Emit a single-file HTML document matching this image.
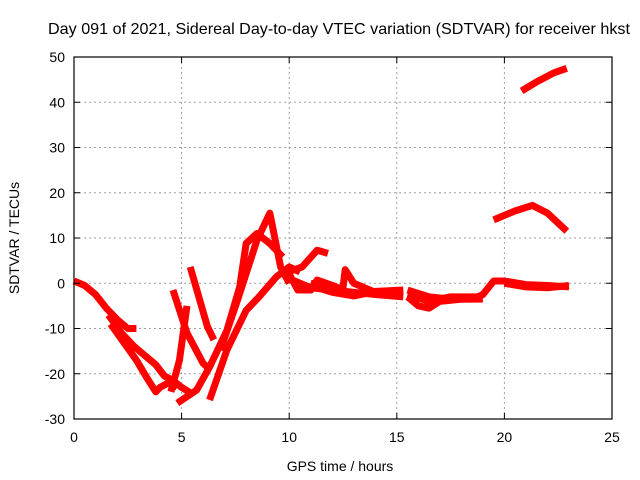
<!DOCTYPE html>
<html><head><meta charset="utf-8"><style>
body{margin:0;background:#fff}
svg{display:block;font-family:"Liberation Sans",sans-serif}
</style></head><body>
<svg id="chart" width="640" height="480">
<text x="339" y="34" font-size="16" text-anchor="middle" textLength="582" lengthAdjust="spacingAndGlyphs">Day 091 of 2021, Sidereal Day-to-day VTEC variation (SDTVAR) for receiver hkst</text>
<text x="340" y="471" font-size="14" text-anchor="middle">GPS time / hours</text>
<text x="0" y="0" font-size="14" text-anchor="middle" transform="translate(19,238) rotate(-90)">SDTVAR / TECUs</text>
<g id="grid"></g><g id="series"></g><g id="axes"></g>
</svg>
<script>
const xTicks=[0,5,10,15,20,25];
const yTicks=[-30,-20,-10,0,10,20,30,40,50];
const trace1=[[0,0.5],[0.5,-0.5],[1,-2.5],[1.5,-5.5],[2,-8],[2.5,-10],[2.9,-10]];
const trace2=[[1.6,-7],[2.2,-11],[2.8,-14],[3.3,-16],[3.8,-18],[4.2,-20.5],[4.6,-21.5],[5.0,-23],[5.5,-24.5]];
const trace3=[[1.7,-9],[2.3,-13],[2.9,-17],[3.4,-21],[3.8,-24],[4.0,-23],[4.4,-22],[4.8,-23]];
const trace4=[[4.6,-1.5],[5.25,-11],[6.0,-17.7],[6.3,-19]];
const trace5=[[4.5,-24],[4.9,-17],[5.25,-5]];
const trace6=[[5.4,3.6],[5.8,-3],[6.2,-9.6],[6.5,-12.5]];
const trace7=[[4.8,-26.5],[5.7,-23.6],[6.3,-18.5],[7.1,-10.5],[7.7,-0.8],[8.0,8.8],[8.5,11],[9.1,8.8],[9.7,5.8]];
const trace8=[[6.3,-25.8],[7.1,-14.8],[8.0,-6],[8.6,-3],[9.4,1.4],[10,3.6],[10.5,2.5]];
const trace9=[[6.8,-14.8],[7.6,-3.7],[8.5,9.5],[9.1,15.5],[9.6,3.6],[10,0]];
const trace10=[[9.9,2.4],[10.6,3.6],[11.3,7.3],[11.8,6.6]];
const trace11=[[10,2],[10.4,-1.5],[11,-1.5],[11.3,0.7],[12.2,-0.8]];
const trace12=[[10,1],[11,-1],[12,-1.5],[13,-2],[14,-2.5],[15.3,-3]];
const trace13=[[11,0],[12,-1],[12.5,-1],[12.6,3],[13,0],[14,-2],[15.3,-2]];
const trace14=[[15.5,-1.5],[16.5,-3],[17.5,-3.5],[18.5,-3.5],[19,-2.5],[19.5,0.5],[20,0.5],[21,-0.3],[22,-0.5],[23,-0.8]];
const trace15=[[15.5,-3],[16,-5],[16.5,-5.5],[17,-4],[18,-3.5],[19,-3.5]];
const trace16=[[19.5,14],[20.5,16],[21.3,17.2],[22,15.5],[22.9,11.5]];
const trace17=[[20.8,42.5],[21.5,44.5],[22.3,46.5],[22.9,47.5]];
const trace18=[[11,-0.5],[12,-2],[13,-2.8],[14,-1.8],[15.3,-1.5]];
const trace19=[[15.5,-2.5],[16.5,-4],[17.5,-3],[18.7,-3]];
const trace20=[[20,0],[21,-0.8],[22,-1],[23,-0.5]];
const traces=[trace1,trace2,trace3,trace4,trace5,trace6,trace7,trace8,trace9,trace10,trace11,trace12,trace13,trace14,trace15,trace16,trace17,trace18,trace19,trace20];

const L=74,R=612,T=57,B=419,xMin=0,xMax=25,yMin=-30,yMax=50;
const xs=v=>L+(v-xMin)/(xMax-xMin)*(R-L);
const ys=v=>B-(v-yMin)/(yMax-yMin)*(B-T);
const NS="http://www.w3.org/2000/svg";
function mk(t,a,p){const e=document.createElementNS(NS,t);for(const k in a)e.setAttribute(k,a[k]);p.appendChild(e);return e;}
const grid=document.getElementById('grid'),axes=document.getElementById('axes'),ser=document.getElementById('series');
xTicks.forEach(t=>{const x=xs(t);
 if(t>xMin&&t<xMax){const g=mk('line',{x1:x,x2:x,y1:T,y2:B,stroke:'#a0a0a0','stroke-dasharray':'2,3'},grid);
 
 }
 mk('line',{x1:x,x2:x,y1:B,y2:B-6,stroke:'#000'},axes);mk('line',{x1:x,x2:x,y1:T,y2:T+6,stroke:'#000'},axes);
 const l=mk('text',{x:x,y:B+23,'font-size':14,'text-anchor':'middle'},axes);l.textContent=t;
 
 });
yTicks.forEach(t=>{const y=ys(t);
 if(t>yMin&&t<yMax){const g=mk('line',{x1:L,x2:R,y1:y,y2:y,stroke:'#a0a0a0','stroke-dasharray':'2,3'},grid);
 
 }
 mk('line',{x1:L,x2:L+6,y1:y,y2:y,stroke:'#000'},axes);mk('line',{x1:R,x2:R-6,y1:y,y2:y,stroke:'#000'},axes);
 const l=mk('text',{x:L-9,y:y+5,'font-size':14,'text-anchor':'end'},axes);l.textContent=t;
 
 });
const fr=mk('rect',{x:L,y:T,width:R-L,height:B-T,fill:'none',stroke:'#000','stroke-width':1.2},axes);


traces.forEach(tr=>{
 const p=mk('polyline',{points:tr.map(d=>xs(d[0])+','+ys(d[1])).join(' '),fill:'none',stroke:'#ff0000','stroke-width':7,'stroke-linejoin':'round','stroke-linecap':'butt'},ser);
 
 
});
</script>
</body></html>
